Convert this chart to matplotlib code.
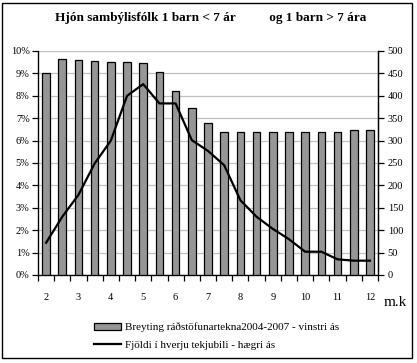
import matplotlib
matplotlib.use("Agg")
import matplotlib.pyplot as plt
import numpy as np
from matplotlib.patches import Rectangle, Patch
from matplotlib.lines import Line2D

plt.rcParams['font.family'] = ['Liberation Serif', 'DejaVu Serif']

categories = ["2", "", "3", "", "4", "", "5", "", "6", "", "7", "", "8", "", "9", "", "10", "", "11", "", "12"]
bar_pct = [9.0, 9.63, 9.58, 9.54, 9.5, 9.5, 9.45, 9.05, 8.2, 7.44, 6.77, 6.4, 6.4, 6.4, 6.4, 6.4, 6.4, 6.4, 6.4, 6.46, 6.46]
line_count = [72, 130, 179, 249, 300, 400, 426, 383, 383, 301, 277, 245, 167, 130, 103, 80, 52, 52, 35, 32, 32]
title = "Hjón sambýlisfólk 1 barn < 7 ár          og 1 barn > 7 ára"
bar_label = "Breyting ráðstöfunartekna2004-2007 - vinstri ás"
line_label = "Fjöldi í hverju tekjubili - hægri ás"

fig = plt.figure(figsize=(4.17, 3.63), dpi=100)
fig.patch.set_facecolor("white")
fig.patches.append(Rectangle((2/417, 5/363), 410/417, 355/363, transform=fig.transFigure,
                             fill=False, edgecolor="black", linewidth=1.0))

ax = fig.add_axes([38/417, (363-275)/363, 340/417, 224/363])
x = np.arange(len(bar_pct))
ax.bar(x, bar_pct, width=0.47, color="#969696", edgecolor="black", linewidth=0.9, zorder=3)
ax.set_xlim(-0.5, len(x) - 0.5)
ax.set_ylim(0, 10)
ax.set_yticks(np.arange(0, 11, 1))
ax.set_yticklabels([f"{v}%" for v in range(0, 11)], fontsize=7.5)
ax.yaxis.grid(True, color="#c0c0c0", linewidth=0.9, zorder=0)
ax.set_axisbelow(True)
ax.set_xticks(x)
ax.set_xticklabels(categories, fontsize=7.5)
ax.set_xticks(np.arange(-0.5, len(x), 1), minor=True)
ax.tick_params(axis="x", which="major", length=0, pad=13)
ax.tick_params(axis="x", which="minor", length=4, width=0.9, direction="out")
ax.tick_params(axis="y", length=4, width=0.9, direction="out", pad=2)
ax.spines["top"].set_visible(False)
for s in ["left", "bottom", "right"]:
    ax.spines[s].set_linewidth(0.9)

ax2 = ax.twinx()
ax2.plot(x, line_count, color="black", linewidth=1.6, zorder=5)
ax2.set_ylim(0, 500)
ax2.set_yticks(np.arange(0, 501, 50))
ax2.set_yticklabels([str(v) for v in range(0, 501, 50)], fontsize=7.5)
ax2.tick_params(axis="y", length=4, width=0.9, direction="out", pad=3)
ax2.spines["top"].set_visible(False)
ax2.spines["right"].set_linewidth(0.9)

fig.text(211/417, 1 - 18/363, title, ha="center", va="center", fontsize=9.5, fontweight="bold")
fig.text(395/417, 1 - 302/363, "m.k", ha="center", va="center", fontsize=11)

handles = [Patch(facecolor="#969696", edgecolor="black", linewidth=0.9),
           Line2D([0], [0], color="black", linewidth=1.6)]
fig.legend(handles, [bar_label, line_label], loc="center left",
           bbox_to_anchor=(84/417, 1 - 336/363), frameon=False, fontsize=8,
           handlelength=2.4, handleheight=0.6, labelspacing=0.75, handletextpad=0.4)

fig.savefig("out.png", dpi=100)
